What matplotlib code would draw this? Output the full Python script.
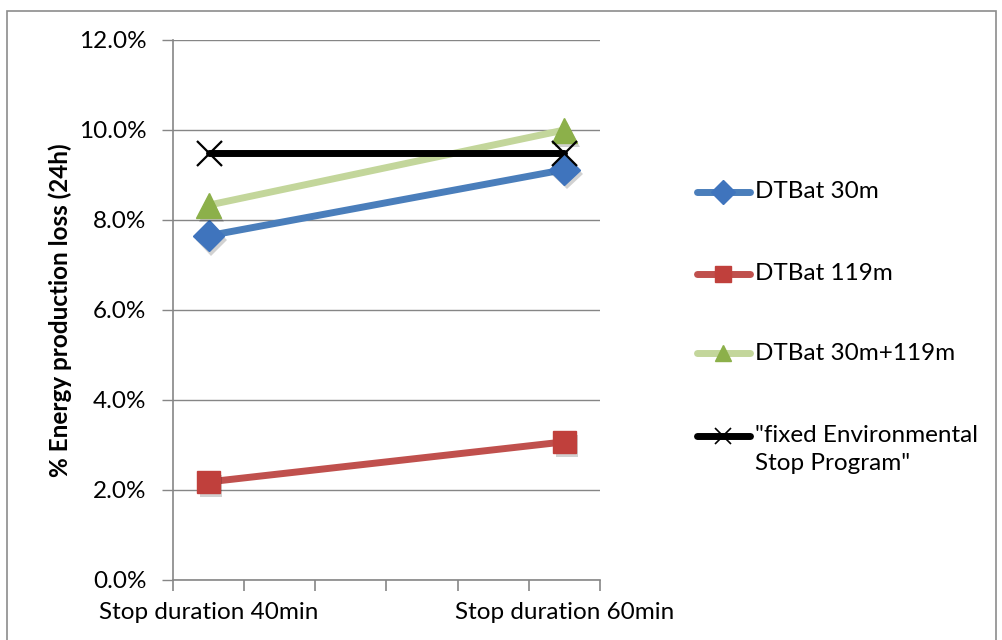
import matplotlib
matplotlib.use("Agg")
import matplotlib.pyplot as plt
from matplotlib.lines import Line2D
from matplotlib.patches import Rectangle
import matplotlib.patheffects as pe

plt.rcParams['font.family'] = ['Lato', 'DejaVu Sans']

categories = ["Stop duration 40min", "", "", "", "", "Stop duration 60min"]
x_idx = [0, 5]
series_names = ["DTBat 30m", "DTBat 119m", "DTBat 30m+119m",
                "\"fixed Environmental\nStop Program\""]
dtbat_30 = [7.65, 9.12]
dtbat_119 = [2.18, 3.07]
dtbat_both = [8.33, 10.0]
fixed_esp = [9.49, 9.49]
yticks = [0, 2, 4, 6, 8, 10, 12]

W, H = 1003, 640
FS = 17.5
fig = plt.figure(figsize=(W / 100, H / 100), dpi=100)
fig.patches.append(Rectangle((7 / W, -0.01), (996 - 7) / W, (H - 11) / H + 0.01,
                             transform=fig.transFigure, fill=False,
                             edgecolor="#8c8c8c", linewidth=1.2))
ax = fig.add_axes([173 / W, (H - 580) / H, (600 - 173) / W, (580 - 40) / H])

grid_c = "#868686"
for y in yticks:
    ax.axhline(y, color=grid_c, lw=1.0, zorder=1)

styles = [
    (dtbat_30, "#4a7ebb", "#3f74bd", "D", 16),
    (dtbat_119, "#c0504d", "#c0403c", "s", 16),
    (dtbat_both, "#c3d69b", "#8cb04a", "^", 18),
    (fixed_esp, "#000000", "#000000", "x", 18),
]
shadow = [pe.SimplePatchShadow(offset=(2, -3), shadow_rgbFace="#000000", alpha=0.18),
          pe.Normal()]
for i, (vals, lc, mc, mk, ms) in enumerate(styles):
    ax.plot(x_idx, vals, color=lc, lw=5, solid_capstyle="round", zorder=3 + i)
    if mk == "x":
        ax.plot(x_idx, vals, ls="none", marker="x", ms=ms, mew=1.6, color=mc,
                zorder=8 + i)
    else:
        ax.plot(x_idx, vals, ls="none", marker=mk, ms=ms, mfc=mc, mec=mc,
                zorder=8 + i, path_effects=shadow)

ax.set_xlim(-0.5, 5.5)
ax.set_ylim(0, 12)
ax.set_yticks(yticks)
ax.set_yticklabels([f"{v:.1f}%" for v in yticks])
ax.set_xticks(range(len(categories)))
ax.set_xticklabels(categories)
ax.set_xticks([i - 0.5 for i in range(len(categories) + 1)], minor=True)
ax.tick_params(axis="x", which="major", length=0, pad=16, labelsize=FS, colors="black")
ax.tick_params(axis="x", which="minor", length=8, width=1.2, color=grid_c, direction="out")
ax.tick_params(axis="y", length=8, width=1.0, color=grid_c, pad=11, labelsize=FS)
for s in ["top", "right"]:
    ax.spines[s].set_visible(False)
for s in ["left", "bottom"]:
    ax.spines[s].set_color(grid_c)
    ax.spines[s].set_linewidth(1.2)
ax.spines["left"].set_zorder(2)
ax.set_ylabel("% Energy production loss (24h)", fontsize=FS, fontweight="bold")
ax.yaxis.set_label_coords((72 - 173) / 427, 0.5)

# manual legend (figure pixel layout)
leg_y = [192, 274, 353, 436]
for (vals, lc, mc, mk, ms), name, yy in zip(styles, series_names, leg_y):
    yf = 1 - yy / H
    fig.add_artist(Line2D([697 / W, 750 / W], [yf, yf], transform=fig.transFigure,
                          color=lc, lw=5, solid_capstyle="round"))
    if mk == "x":
        fig.add_artist(Line2D([723.5 / W], [yf], transform=fig.transFigure,
                              ls="none", marker="x", ms=12, mew=1.2, color=mc))
    else:
        fig.add_artist(Line2D([723.5 / W], [yf], transform=fig.transFigure,
                              ls="none", marker=mk, ms=12, mfc=mc, mec=mc))
    first, *rest = name.split("\n")
    fig.text(755 / W, yf, first, fontsize=FS, va="center", ha="left")
    for k, line in enumerate(rest, start=1):
        fig.text(755 / W, 1 - (yy + 28 * k) / H, line, fontsize=FS,
                 va="center", ha="left")

fig.savefig("out.png", dpi=100)
